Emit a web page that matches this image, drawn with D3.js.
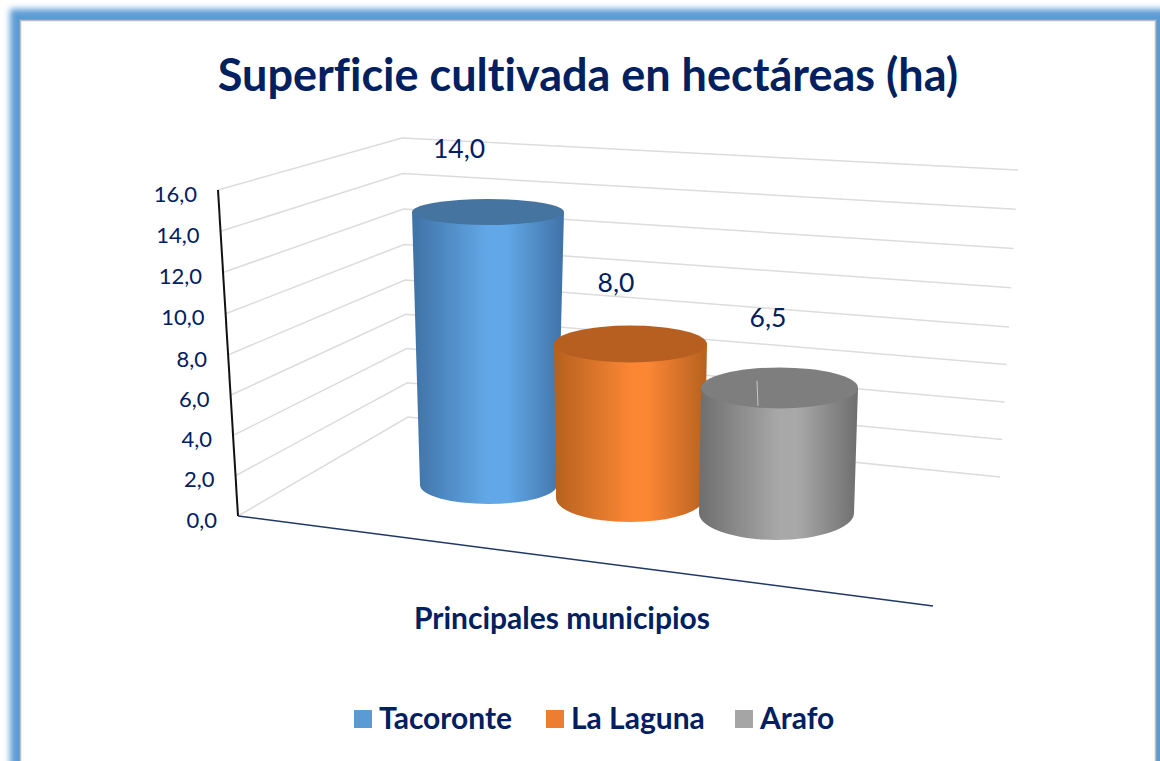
<!DOCTYPE html>
<html>
<head>
<meta charset="utf-8">
<script src="https://cdn.jsdelivr.net/npm/d3@7"></script>
<style>
  html, body { margin: 0; padding: 0; background: #fff; overflow: hidden; }
  text { font-family: Lato, "Noto Sans", sans-serif; fill: #002060; font-variant-ligatures: none; }
</style>
</head>
<body>
<svg id="chart" width="1160" height="761"></svg>
<script>
// data
var categories = ["Tacoronte", "La Laguna", "Arafo"];
var values = [14.0, 8.0, 6.5];
var yTicks = [0, 2, 4, 6, 8, 10, 12, 14, 16];
var titleText = "Superficie cultivada en hectáreas (ha)";
var xAxisTitle = "Principales municipios";

var width = 1160, height = 761;
var GridColor = "#dcdcdc";
var fmt = function(v) { return v.toFixed(1).replace(".", ","); };

var svg = d3.select("#chart");
var defs = svg.append("defs");

// frame with the soft blue glow
defs.append("filter").attr("id", "glow")
  .attr("x", "-5%").attr("y", "-5%").attr("width", "110%").attr("height", "110%")
  .append("feGaussianBlur").attr("stdDeviation", 3.2);
svg.append("rect")
  .attr("x", 10).attr("y", 9).attr("width", width + 20).attr("height", height + 30)
  .attr("fill", "#5b9bd5").attr("filter", "url(#glow)");
svg.append("rect")
  .attr("x", 20.5).attr("y", 20.5).attr("width", 1135).attr("height", height)
  .attr("fill", "#fff").attr("stroke", "#bdbdbd").attr("stroke-width", 1.5);

// the three vertical edges of the 3d box, each one a scale of value -> pixel
var frontX = d3.scaleLinear().domain([0, 16]).range([238, 218]);
var frontY = d3.scaleLinear().domain([0, 8, 16]).range([516, 355, 190]);
var backLX = d3.scaleLinear().domain([0, 16]).range([408, 402]);
var backLY = d3.scaleLinear().domain([0, 8, 16]).range([417, 280, 138]);
var backRX = d3.scaleLinear().domain([0, 16]).range([1000, 1018]);
var backRY = d3.scaleLinear().domain([0, 8, 16]).range([477, 327, 170]);

var gridLine = d3.line();
svg.append("g").selectAll("path")
  .data(yTicks)
  .join("path")
  .attr("d", function(t) {
    return gridLine([[frontX(t), frontY(t)], [backLX(t), backLY(t)], [backRX(t), backRY(t)]]);
  })
  .attr("fill", "none")
  .attr("stroke", GridColor)
  .attr("stroke-width", 1.5);

// axis lines
svg.append("line")
  .attr("x1", frontX(0)).attr("y1", frontY(0))
  .attr("x2", frontX(16)).attr("y2", frontY(16))
  .attr("stroke", "#111").attr("stroke-width", 2);
svg.append("line")
  .attr("x1", frontX(0)).attr("y1", frontY(0))
  .attr("x2", 933).attr("y2", 606)
  .attr("stroke", "#1f3864").attr("stroke-width", 1.5);

svg.append("g").selectAll("text")
  .data(yTicks)
  .join("text")
  .attr("x", function(t) { return frontX(t) - 21; })
  .attr("y", function(t) { return frontY(t) + 11.5; })
  .attr("text-anchor", "end")
  .style("font-size", "22px")
  .text(fmt);

// cylinders
var baseX = d3.scaleOrdinal().domain(categories).range([488.5, 630, 776.5]);
var baseY = d3.scaleOrdinal().domain(categories).range([485, 498, 513]);
var baseRx = d3.scaleOrdinal().domain(categories).range([68.5, 74, 77.5]);
var baseRy = d3.scaleOrdinal().domain(categories).range([19, 24, 27]);
var topX = d3.scaleOrdinal().domain(categories).range([488, 630.5, 779.5]);
var topRx = d3.scaleOrdinal().domain(categories).range([76, 76.5, 78.5]);
var topRy = d3.scaleOrdinal().domain(categories).range([13, 18.5, 20.5]);
var barHeight = d3.scaleLinear().domain([0, 8, 14]).range([0, 154, 273]);

var sideEdge = d3.scaleOrdinal().domain(categories).range(["#3f72a5", "#b5611f", "#6e6e6e"]);
var sideMid = d3.scaleOrdinal().domain(categories).range(["#62a8e8", "#fb8634", "#a8a8a8"]);
var capColor = d3.scaleOrdinal().domain(categories).range(["#44749f", "#b65f20", "#7e7e7e"]);
var legendColor = d3.scaleOrdinal().domain(categories).range(["#5b9bd5", "#ed7d31", "#a5a5a5"]);

var rows = categories.map(function(c, i) { return { name: c, value: values[i], i: i }; });

rows.forEach(function(d) {
  var g = defs.append("linearGradient").attr("id", "side" + d.i);
  g.append("stop").attr("offset", "0%").attr("stop-color", sideEdge(d.name));
  g.append("stop").attr("offset", "50%").attr("stop-color", sideMid(d.name));
  g.append("stop").attr("offset", "62%").attr("stop-color", sideMid(d.name));
  g.append("stop").attr("offset", "100%").attr("stop-color", sideEdge(d.name));
});

var topY = function(d) { return baseY(d.name) - barHeight(d.value); };

var bars = svg.append("g").selectAll("g")
  .data(rows)
  .join("g");

bars.append("path")
  .attr("d", function(d) {
    var bx = baseX(d.name), by = baseY(d.name), brx = baseRx(d.name), bry = baseRy(d.name);
    var tx = topX(d.name), ty = topY(d), trx = topRx(d.name);
    return "M" + (tx - trx) + "," + ty +
      "L" + (bx - brx) + "," + by +
      "A" + brx + "," + bry + " 0 0 0 " + (bx + brx) + "," + by +
      "L" + (tx + trx) + "," + ty + "Z";
  })
  .attr("fill", function(d) { return "url(#side" + d.i + ")"; });

bars.append("ellipse")
  .attr("cx", function(d) { return topX(d.name); })
  .attr("cy", topY)
  .attr("rx", function(d) { return topRx(d.name); })
  .attr("ry", function(d) { return topRy(d.name); })
  .attr("fill", function(d) { return capColor(d.name); });

// small light seam on top of the grey cylinder
svg.append("line")
  .attr("x1", 757).attr("y1", topY(rows[2]) - 7)
  .attr("x2", 758).attr("y2", topY(rows[2]) + 18)
  .attr("stroke", "#c9c9c9").attr("stroke-width", 1);

// value labels
var labelDx = d3.scaleOrdinal().domain(categories).range([-29, -14.5, -11.5]);
var labelDy = d3.scaleOrdinal().domain(categories).range([-54, -52, -61]);
svg.append("g").selectAll("text")
  .data(rows)
  .join("text")
  .attr("x", function(d) { return topX(d.name) + labelDx(d.name); })
  .attr("y", function(d) { return topY(d) + labelDy(d.name); })
  .attr("text-anchor", "middle")
  .style("font-size", "26.5px")
  .text(function(d) { return fmt(d.value); });

// titles
svg.append("text")
  .attr("x", 588).attr("y", 91)
  .attr("text-anchor", "middle")
  .style("font-size", "45px").style("font-weight", "bold")
  .text(titleText);
svg.append("text")
  .attr("x", 562).attr("y", 629)
  .attr("text-anchor", "middle")
  .style("font-size", "30px").style("font-weight", "bold")
  .text(xAxisTitle);

// legend
var legendSwatchX = d3.scaleOrdinal().domain(categories).range([354, 546, 735]);
var legend = svg.append("g").selectAll("g")
  .data(categories)
  .join("g")
  .attr("transform", function(c) { return "translate(" + legendSwatchX(c) + ",710)"; });
legend.append("rect")
  .attr("width", 18).attr("height", 18)
  .attr("fill", legendColor);
legend.append("text")
  .attr("x", 25).attr("y", 18.5)
  .style("font-size", "30px").style("font-weight", "bold")
  .text(function(c) { return c; });
</script>
</body>
</html>
